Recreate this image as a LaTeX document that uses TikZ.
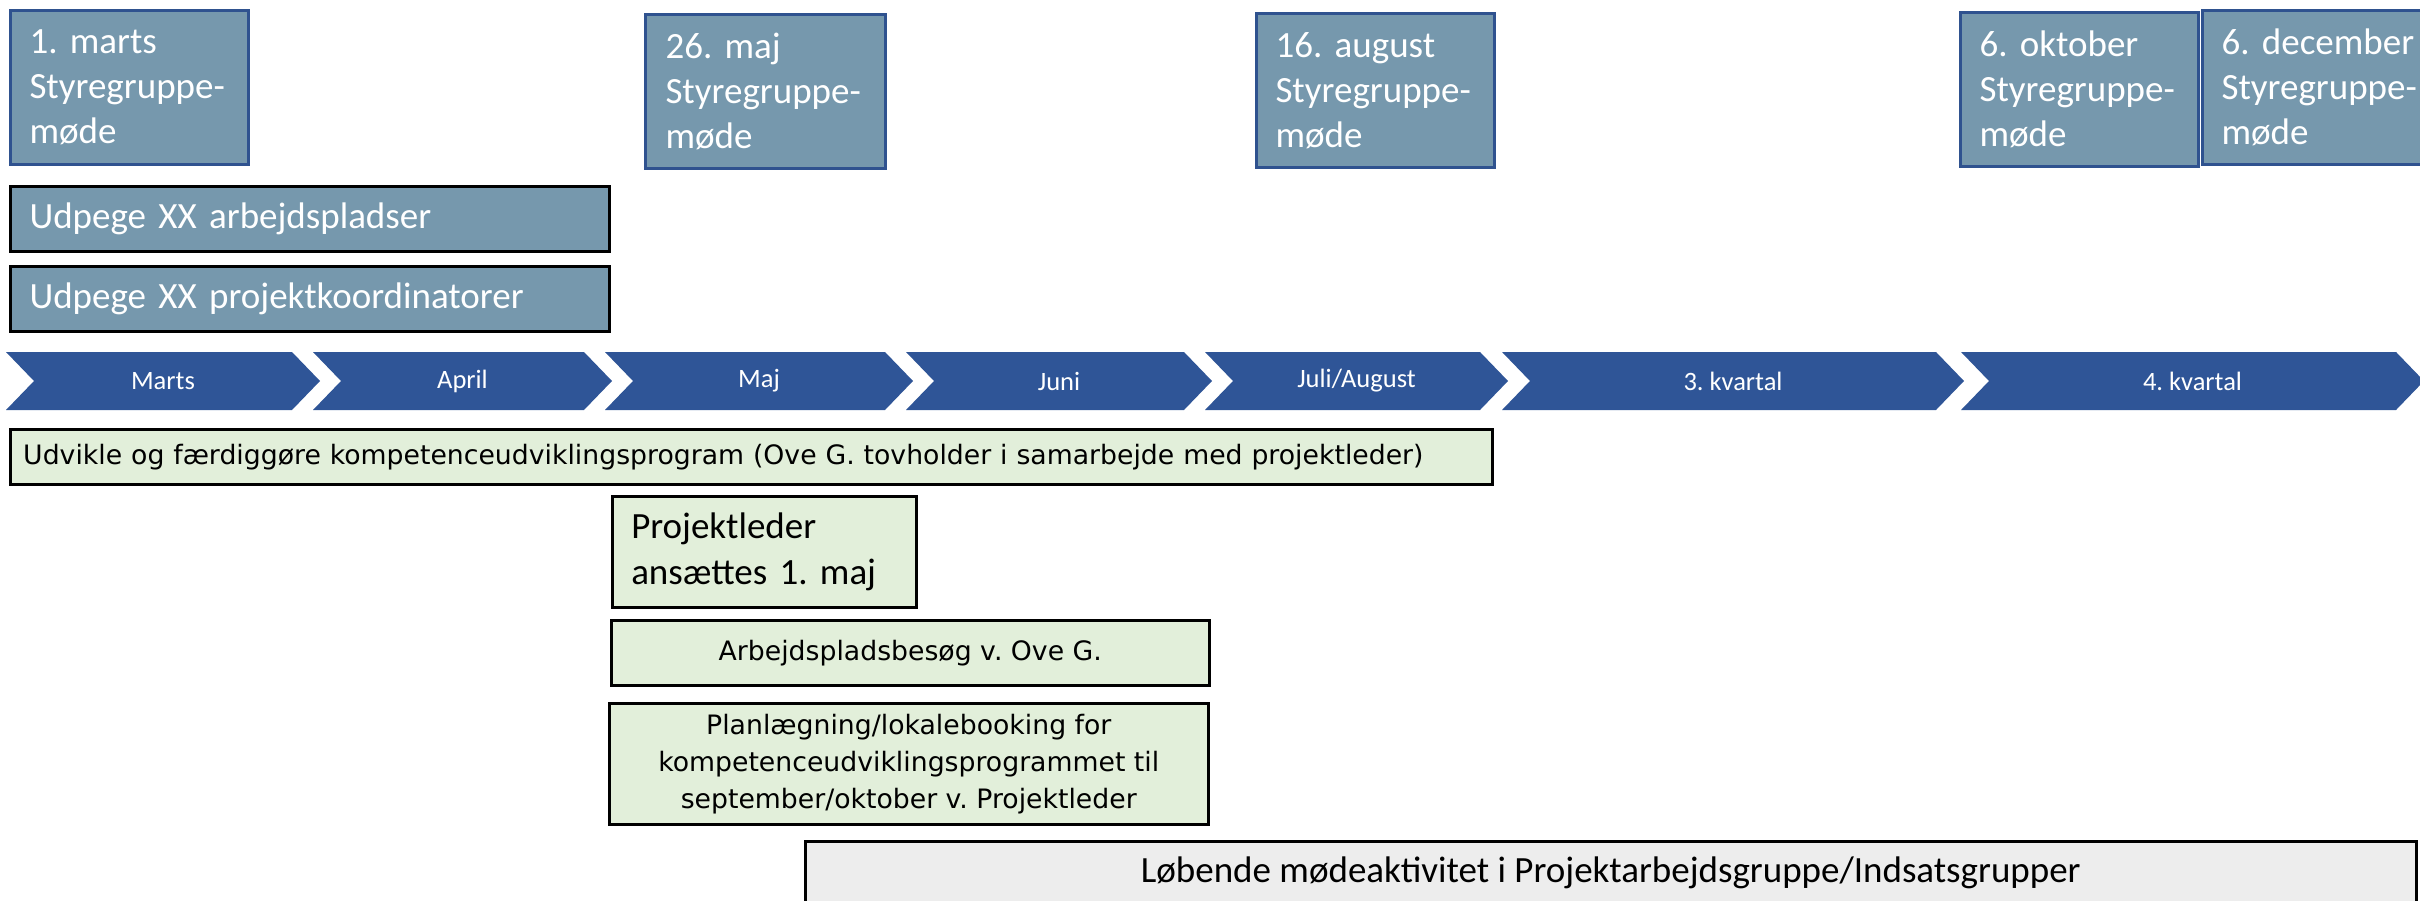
\documentclass[tikz,border=0pt]{standalone}
\usepackage{fontspec}
\newfontfamily\calibri{Carlito}
\newfontfamily\verdana{DejaVu Sans}
\frenchspacing
\definecolor{meetfill}{RGB}{118,152,173}
\definecolor{meetline}{RGB}{47,82,143}
\definecolor{chevfill}{RGB}{47,85,151}
\definecolor{greenfill}{RGB}{226,239,218}
\definecolor{grayfill}{RGB}{237,237,237}
\tikzset{
  meeting/.style={draw=meetline,line width=3pt,fill=meetfill,anchor=north west,
    minimum height=154pt,text width=200pt,inner xsep=19pt,inner ysep=0pt,align=left,
    text=white,font=\calibri\fontsize{37}{45}\selectfont},
  appoint/.style={draw=black,line width=3pt,fill=meetfill,anchor=north west,
    minimum width=599pt,minimum height=65pt,text width=561pt,inner xsep=19pt,
    align=left,text=white,font=\calibri\fontsize{37}{45}\selectfont},
  task/.style={draw=black,line width=2.5pt,fill=greenfill,anchor=north west,
    inner ysep=0pt,align=center,font=\verdana\fontsize{26.7}{37}\selectfont},
  monthlabel/.style={text=white,font=\calibri\fontsize{26.5}{30}\selectfont}
}
\begin{document}
\begin{tikzpicture}[x=1pt,y=-1pt]
\useasboundingbox (0,0) rectangle (2420,901);
% styregruppemoeder
\foreach \x/\y/\w/\date [count=\i] in {9/9/238/1. marts,644/13/240/26. maj,
    1255/12/236/16. august,1959/11/236/6. oktober,2201/9/238/6. december} {
  \node[meeting,minimum width=\w] (sg\i) at (\x,\y) {\date\\Styregruppe-\\møde};
}
\node[appoint] (udpA) at (9,185) {Udpege XX arbejdspladser};
\node[appoint] (udpB) at (9,265) {Udpege XX projektkoordinatorer};
% tidslinje
\foreach \l/\r/\txt [count=\i] in {6/292/Marts,313/584/April,605/885/Maj,
    906/1184/Juni,1205/1480/{Juli/August},1502/1936/3. kvartal,1961/2396/4. kvartal} {
  \fill[chevfill] (\l,352) -- (\r,352) -- ++(28,29) -- (\r,410) -- (\l,410)
    -- ++(28,-29) -- cycle;
  \node[monthlabel] (mo\i) at ({(\l+\r+28)/2},381) {\txt};
}
\node[task,minimum width=1482pt,minimum height=55pt,text width=1456pt,
  inner xsep=13pt,align=left] (udvikle) at (9,428)
  {Udvikle og færdiggøre kompetenceudviklingsprogram (Ove G. tovholder i samarbejde med projektleder)};
\node[task,minimum width=304pt,minimum height=111pt,text width=266pt,inner xsep=19pt,
  align=left,font=\calibri\fontsize{37}{46}\selectfont] (pl) at (611,495)
  {Projektleder\\ansættes 1. maj};
\node[task,minimum width=598pt,minimum height=65pt] (besog) at (610,619)
  {Arbejdspladsbesøg v. Ove G.};
\node[task,minimum width=599pt,minimum height=121pt] (plan) at (608,702)
  {Planlægning/lokalebooking for\\kompetenceudviklingsprogrammet til\\september/oktober v. Projektleder};
\node[draw=black,line width=2.5pt,fill=grayfill,anchor=north west,minimum width=1611pt,
  minimum height=64pt,font=\calibri\fontsize{37}{45}\selectfont] (lob) at (804,840)
  {Løbende mødeaktivitet i Projektarbejdsgruppe/Indsatsgrupper};
\end{tikzpicture}
\end{document}
